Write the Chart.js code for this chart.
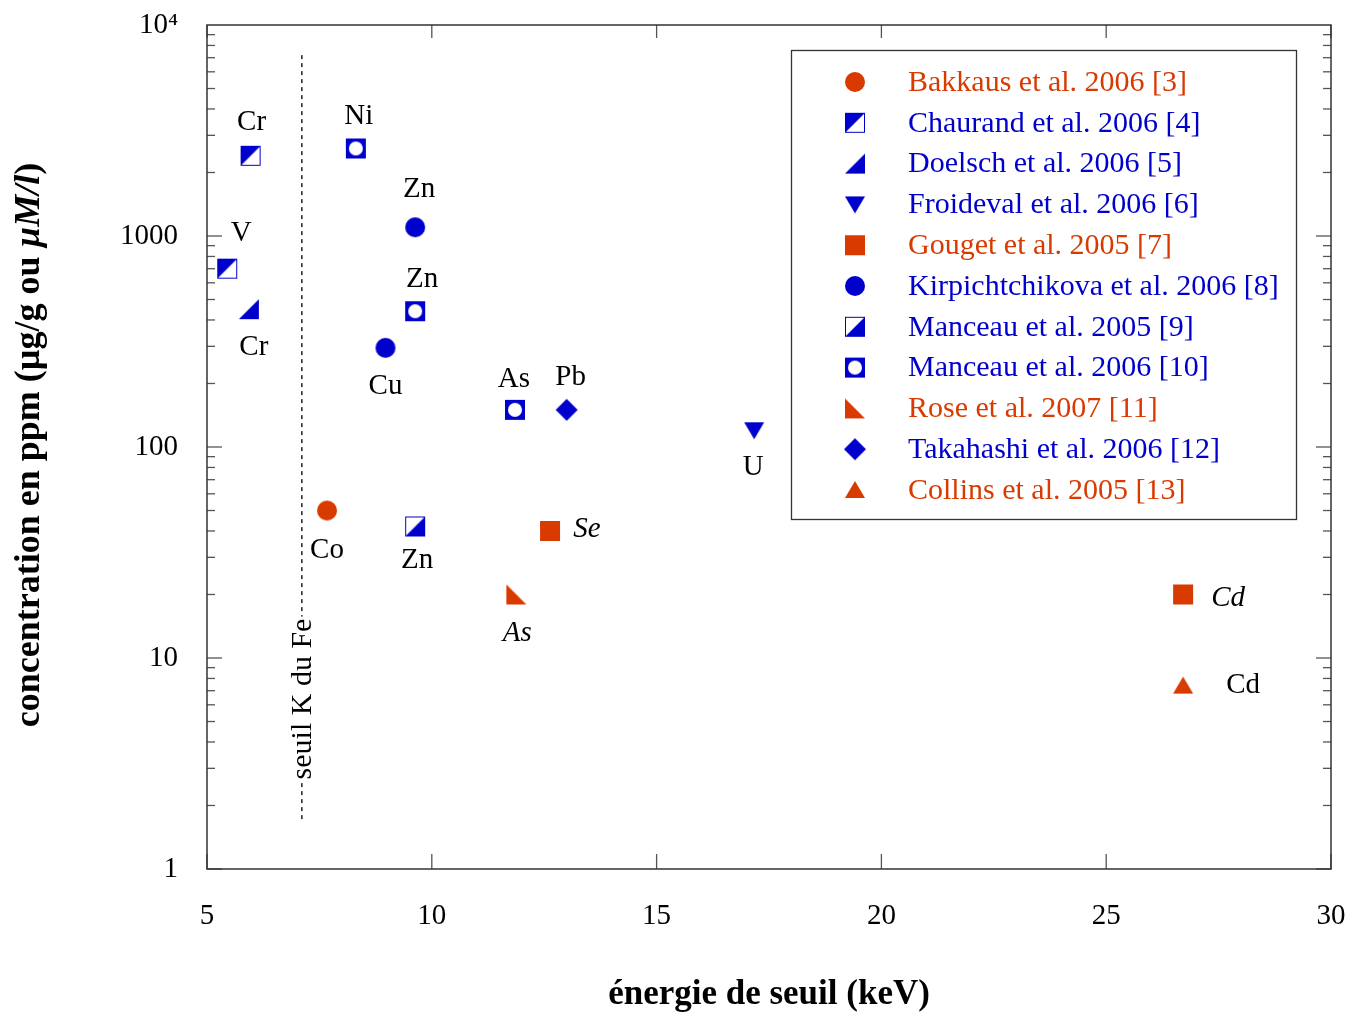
<!DOCTYPE html>
<html>
<head>
<meta charset="utf-8">
<script src="https://cdn.jsdelivr.net/npm/chart.js@4.4.0/dist/chart.umd.min.js"></script>
<style>
  body { margin: 0; background: #fff; }
</style>
</head>
<body>
<canvas id="chart" width="1352" height="1015"></canvas>
<script>
// valeurs : énergie de seuil (keV) / concentration (ppm)
const studies = [
  'Bakkaus et al. 2006 [3]',
  'Chaurand et al. 2006 [4]',
  'Doelsch et al. 2006 [5]',
  'Froideval et al. 2006 [6]',
  'Gouget et al. 2005 [7]',
  'Kirpichtchikova et al. 2006 [8]',
  'Manceau et al. 2005 [9]',
  'Manceau et al. 2006 [10]',
  'Rose et al. 2007 [11]',
  'Takahashi et al. 2006 [12]',
  'Collins et al. 2005 [13]'
];

const bakkausE = [7.67],               bakkausC = [50],              bakkausEl = ['Co'];
const chaurandE = [5.97, 5.45],        chaurandC = [2400, 700],      chaurandEl = ['Cr', 'V'];
const doelschE = [5.93],               doelschC = [450],             doelschEl = ['Cr'];
const froidevalE = [17.17],            froidevalC = [120],           froidevalEl = ['U'];
const gougetE = [12.63, 26.71],        gougetC = [40, 20],           gougetEl = ['Se', 'Cd'];
const kirpE = [9.63, 8.97],            kirpC = [1100, 295],          kirpEl = ['Zn', 'Cu'];
const manceau05E = [9.63],             manceau05C = [42],            manceau05El = ['Zn'];
const manceau06E = [8.31, 9.63, 11.85], manceau06C = [2600, 440, 150], manceau06El = ['Ni', 'Zn', 'As'];
const roseE = [11.88],                 roseC = [20],                 roseEl = ['As'];
const takahashiE = [13.0],             takahashiC = [150],           takahashiEl = ['Pb'];
const collinsE = [26.71],              collinsC = [7.4],             collinsEl = ['Cd'];

const feEdgeE = [7.11, 7.11], feEdgeC = [7200, 1.67];

const xTicks = [5, 10, 15, 20, 25, 30];
const yTicks = [1, 10, 100, 1000, 10000];
const yTickLabels = ['1', '10', '100', '1000', '10⁴'];

// styles
const ORANGE = '#d93a00';
const BLUE = '#0000cc';
const SERIF = '"Liberation Serif", "Times New Roman", serif';

const seriesE = [bakkausE, chaurandE, doelschE, froidevalE, gougetE, kirpE, manceau05E, manceau06E, roseE, takahashiE, collinsE];
const seriesC = [bakkausC, chaurandC, doelschC, froidevalC, gougetC, kirpC, manceau05C, manceau06C, roseC, takahashiC, collinsC];
const seriesEl = [bakkausEl, chaurandEl, doelschEl, froidevalEl, gougetEl, kirpEl, manceau05El, manceau06El, roseEl, takahashiEl, collinsEl];
const markers = ['circle', 'halfUL', 'triBR', 'triDown', 'square', 'circle', 'halfLR', 'ring', 'triBL', 'diamond', 'triUp'];
const colors = [ORANGE, BLUE, BLUE, BLUE, ORANGE, BLUE, BLUE, BLUE, ORANGE, BLUE, ORANGE];
// placement des étiquettes (décalage en px, italique)
const labelPos = [
  [[0, 40, false]],
  [[1, -33, false], [14, -35, false]],
  [[5, 38, false]],
  [[-1, 37, false]],
  [[37, -2, true], [45, 4, true]],
  [[4, -38, false], [0, 39, false]],
  [[2, 34, false]],
  [[3, -32, false], [7, -32, false], [-1, -30, false]],
  [[1, 39, true]],
  [[4, -32, false]],
  [[60, 0, false]]
];

function makeMarker(type, color) {
  const c = document.createElement('canvas');
  c.width = 24; c.height = 24;
  const g = c.getContext('2d');
  g.fillStyle = color; g.strokeStyle = color; g.lineWidth = 1;
  g.beginPath();
  switch (type) {
    case 'circle': g.arc(12, 12, 10, 0, 2 * Math.PI); g.fill(); break;
    case 'square': g.fillRect(2, 2, 20, 20); break;
    case 'halfUL':
      g.moveTo(2, 2); g.lineTo(22, 2); g.lineTo(2, 22); g.closePath(); g.fill();
      g.strokeRect(2.5, 2.5, 19, 19); break;
    case 'halfLR':
      g.moveTo(22, 2); g.lineTo(22, 22); g.lineTo(2, 22); g.closePath(); g.fill();
      g.strokeRect(2.5, 2.5, 19, 19); break;
    case 'triBR': g.moveTo(2, 22); g.lineTo(22, 22); g.lineTo(22, 2); g.closePath(); g.fill(); break;
    case 'triBL': g.moveTo(2, 2); g.lineTo(2, 22); g.lineTo(22, 22); g.closePath(); g.fill(); break;
    case 'triDown': g.moveTo(2, 4); g.lineTo(22, 4); g.lineTo(12, 21); g.closePath(); g.fill(); break;
    case 'triUp': g.moveTo(12, 3); g.lineTo(22, 20); g.lineTo(2, 20); g.closePath(); g.fill(); break;
    case 'diamond': g.moveTo(12, 1); g.lineTo(23, 12); g.lineTo(12, 23); g.lineTo(1, 12); g.closePath(); g.fill(); break;
    case 'ring':
      g.fillRect(2, 2, 20, 20);
      g.fillStyle = '#fff'; g.arc(12, 12, 7, 0, 2 * Math.PI); g.fill(); break;
  }
  return c;
}

const markerImgs = markers.map((m, i) => makeMarker(m, colors[i]));

const datasets = studies.map((name, i) => ({
  label: name,
  data: seriesE[i].map((e, j) => ({ x: e, y: seriesC[i][j] })),
  pointStyle: markerImgs[i],
  pointRadius: 11,
  backgroundColor: colors[i],
  borderColor: colors[i],
  showLine: false
}));

datasets.unshift({
  label: 'seuil K du Fe',
  data: feEdgeE.map((e, j) => ({ x: e, y: feEdgeC[j] })),
  showLine: true,
  borderColor: '#000',
  borderWidth: 1.3,
  borderDash: [4, 4],
  pointRadius: 0
});

function line(ctx, x1, y1, x2, y2) {
  ctx.beginPath(); ctx.moveTo(x1, y1); ctx.lineTo(x2, y2); ctx.stroke();
}

const decor = {
  id: 'decor',
  afterDraw(chart) {
    const { ctx, chartArea: a, scales: { x, y } } = chart;
    ctx.save();

    // ticks intérieurs sur les quatre côtés
    ctx.strokeStyle = '#555'; ctx.lineWidth = 1.3;
    xTicks.forEach(v => {
      const px = x.getPixelForValue(v);
      line(ctx, px, a.bottom, px, a.bottom - 15);
      line(ctx, px, a.top, px, a.top + 13);
    });
    for (let d = 0; d < 4; d++) {
      for (let k = 1; k < 10; k++) {
        const py = y.getPixelForValue(k * Math.pow(10, d));
        const len = k === 1 ? 15 : 8;
        line(ctx, a.left, py, a.left + len, py);
        line(ctx, a.right, py, a.right - len, py);
      }
    }
    ctx.strokeStyle = '#333'; ctx.lineWidth = 1.5;
    ctx.strokeRect(a.left, a.top, a.right - a.left, a.bottom - a.top);

    // étiquettes des éléments
    ctx.fillStyle = '#000';
    ctx.textAlign = 'center'; ctx.textBaseline = 'middle';
    chart.data.datasets.forEach((ds, di) => {
      if (di === 0) return;
      const i = di - 1;
      seriesEl[i].forEach((el, j) => {
        const p = labelPos[i][j];
        const px = x.getPixelForValue(seriesE[i][j]) + p[0];
        const py = y.getPixelForValue(seriesC[i][j]) + p[1];
        ctx.font = (p[2] ? 'italic ' : '') + '29px ' + SERIF;
        ctx.fillText(el, px, py);
      });
    });

    // seuil K du Fe
    const fx = x.getPixelForValue(feEdgeE[0]);
    ctx.save();
    ctx.translate(fx, 699);
    ctx.rotate(-Math.PI / 2);
    ctx.font = '30px ' + SERIF;
    const tw = ctx.measureText('seuil K du Fe').width;
    ctx.fillStyle = '#fff';
    ctx.fillRect(-tw / 2 - 2, -13, tw + 4, 26);
    ctx.fillStyle = '#000';
    ctx.fillText('seuil K du Fe', 0, 1);
    ctx.restore();

    // légende
    const lx = 791.5, ly = 50.5, lw = 505, lh = 469;
    ctx.strokeStyle = '#333'; ctx.lineWidth = 1.3;
    ctx.fillStyle = '#fff';
    ctx.fillRect(lx, ly, lw, lh);
    ctx.strokeRect(lx, ly, lw, lh);
    ctx.font = '30px ' + SERIF;
    ctx.textAlign = 'left';
    studies.forEach((s, i) => {
      const ry = 82 + i * 40.8;
      ctx.drawImage(markerImgs[i], 855 - 12, ry - 12);
      ctx.fillStyle = colors[i];
      ctx.fillText(s, 908, ry + 1);
    });

    // titres des axes
    ctx.fillStyle = '#000';
    ctx.textAlign = 'center';
    ctx.font = 'bold 35px ' + SERIF;
    ctx.fillText('énergie de seuil (keV)', 769, 995);

    ctx.save();
    ctx.translate(30, 445);
    ctx.rotate(-Math.PI / 2);
    const parts = [
      ['concentration en ppm (µg/g ou ', 'bold 36px ' + SERIF],
      ['µM/l', 'italic bold 36px ' + SERIF],
      [')', 'bold 36px ' + SERIF]
    ];
    let total = 0;
    parts.forEach(p => { ctx.font = p[1]; total += ctx.measureText(p[0]).width; });
    let cx = -total / 2;
    ctx.textAlign = 'left';
    parts.forEach(p => { ctx.font = p[1]; ctx.fillText(p[0], cx, 0); cx += ctx.measureText(p[0]).width; });
    ctx.restore();

    ctx.restore();
  }
};

new Chart(document.getElementById('chart').getContext('2d'), {
  type: 'scatter',
  data: { datasets: datasets },
  options: {
    responsive: false,
    animation: false,
    layout: { padding: { top: 25, right: 21, left: 0, bottom: 0 } },
    plugins: { legend: { display: false }, tooltip: { enabled: false } },
    scales: {
      x: {
        type: 'linear', min: 5, max: 30,
        grid: { display: false, drawTicks: false },
        border: { display: false },
        afterBuildTicks: s => { s.ticks = xTicks.map(v => ({ value: v })); },
        afterFit: s => { s.height = 146; s.paddingLeft = 0; s.paddingRight = 0; },
        ticks: { padding: 30, color: '#000', font: { family: SERIF, size: 29 } }
      },
      y: {
        type: 'logarithmic', min: 1, max: 10000,
        grid: { display: false, drawTicks: false },
        border: { display: false },
        afterBuildTicks: s => { s.ticks = yTicks.map(v => ({ value: v })); },
        afterFit: s => { s.width = 207; s.paddingTop = 0; s.paddingBottom = 0; },
        ticks: {
          padding: 29, color: '#000', font: { family: SERIF, size: 29 },
          callback: v => yTickLabels[yTicks.indexOf(v)]
        }
      }
    }
  },
  plugins: [decor]
});
</script>
</body>
</html>
